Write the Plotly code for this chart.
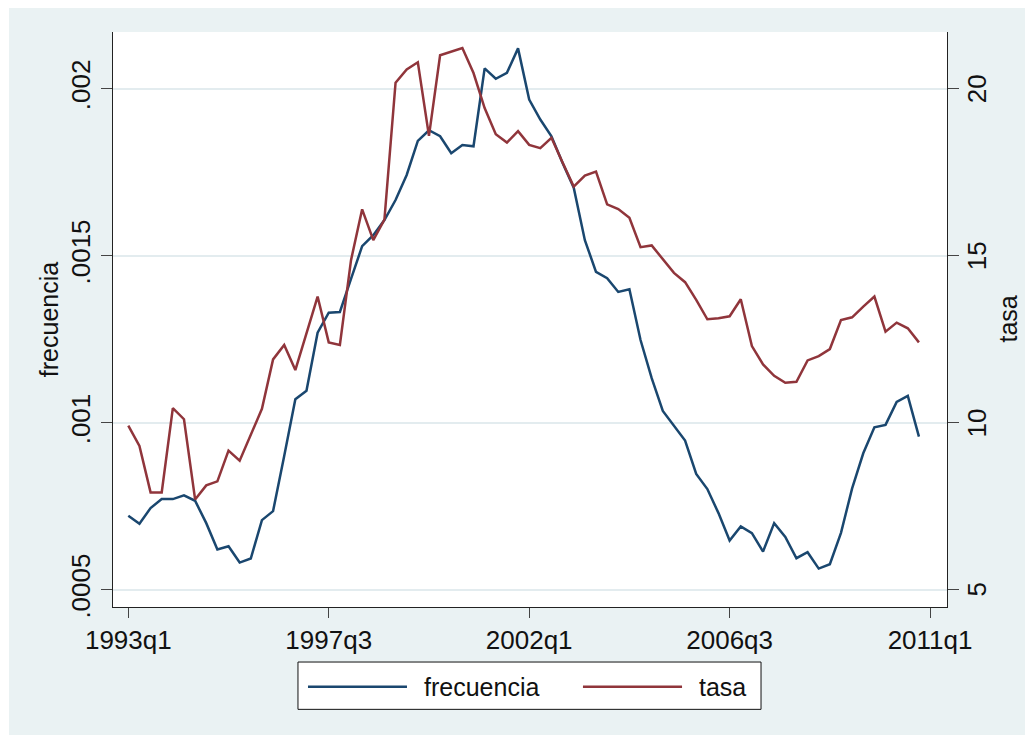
import plotly.graph_objects as go

# quarterly series, 1993q1 .. 2010q4 (index 0 .. 71)
QUARTER_TICKS = [0, 18, 36, 54, 72]
QUARTER_LABELS = ["1993q1", "1997q3", "2002q1", "2006q3", "2011q1"]

FREQ_TICKS = [0.0005, 0.001, 0.0015, 0.002]
FREQ_LABELS = [".0005", ".001", ".0015", ".002"]
TASA_TICKS = [5, 10, 15, 20]
TASA_LABELS = ["5", "10", "15", "20"]

frecuencia = [
    0.000722, 0.000698, 0.000745, 0.000772, 0.000772, 0.000783, 0.000767, 0.000700, 0.000621, 0.000631,
    0.000582, 0.000594, 0.000709, 0.000736, 0.000901, 0.001071, 0.001096, 0.001270, 0.001330, 0.001332,
    0.001431, 0.001529, 0.001562, 0.001607, 0.001667, 0.001742, 0.001844, 0.001876, 0.001858, 0.001807,
    0.001832, 0.001828, 0.002061, 0.002030, 0.002048, 0.002121, 0.001968, 0.001908, 0.001858, 0.001778,
    0.001704, 0.001547, 0.001452, 0.001433, 0.001392, 0.001400, 0.001248, 0.001134, 0.001036, 0.000992,
    0.000947, 0.000847, 0.000802, 0.000730, 0.000648, 0.000690, 0.000670, 0.000615, 0.000700, 0.000659,
    0.000595, 0.000613, 0.000564, 0.000577, 0.000671, 0.000804, 0.000909, 0.000987, 0.000994, 0.001063,
    0.001081, 0.000959,
]

tasa = [
    9.92, 9.31, 7.92, 7.92, 10.44, 10.11, 7.71, 8.13, 8.25, 9.17,
    8.87, 9.67, 10.42, 11.90, 12.33, 11.58, 12.68, 13.78, 12.41, 12.33,
    14.87, 16.39, 15.47, 16.08, 20.18, 20.58, 20.79, 18.59, 21.00, 21.10,
    21.22, 20.47, 19.42, 18.64, 18.39, 18.73, 18.32, 18.22, 18.53, 17.79,
    17.07, 17.40, 17.52, 16.54, 16.40, 16.14, 15.26, 15.31, 14.90, 14.49,
    14.21, 13.68, 13.10, 13.13, 13.19, 13.70, 12.30, 11.75, 11.41, 11.20,
    11.23, 11.87, 12.00, 12.21, 13.08, 13.16, 13.48, 13.78, 12.73, 13.00,
    12.83, 12.41,
]

BLUE = "#1a476f"
RED = "#90353b"
BG = "#eaf2f3"
GRID = "#e3ecef"
FONT = "Liberation Sans, Arial, sans-serif"

quarters = list(range(len(frecuencia)))

fig = go.Figure()
fig.add_trace(go.Scatter(x=quarters, y=frecuencia, mode="lines", name="frecuencia",
                         line={"color": BLUE, "width": 2.5}))
fig.add_trace(go.Scatter(x=quarters, y=tasa, mode="lines", name="tasa", yaxis="y2",
                         line={"color": RED, "width": 2.5}))

axis_common = dict(
    showline=True, linecolor="#222222", linewidth=1.3,
    ticks="outside", ticklen=11, tickwidth=1.3, tickcolor="#444444",
    tickfont={"size": 26, "color": "#111111", "family": FONT},
    zeroline=False,
)

# the page body adds an 8px offset, so the figure is a bit smaller than the window
fig.update_layout(
    width=1026, height=732,
    margin={"l": 105, "r": 87, "t": 24, "b": 133},
    paper_bgcolor="white",
    plot_bgcolor="white",
    showlegend=False,
    font={"family": FONT, "color": "#111111"},
    xaxis=dict(
        axis_common, range=[-1.374, 73.52], tickvals=QUARTER_TICKS, ticktext=QUARTER_LABELS,
        showgrid=False, ticklen=10,
    ),
    yaxis=dict(
        axis_common, range=[0.000449, 0.00217], tickvals=FREQ_TICKS, ticktext=FREQ_LABELS,
        tickangle=-90, showgrid=True, gridcolor=GRID, gridwidth=1.5,
        title={"text": "frecuencia", "font": {"size": 25, "family": FONT}, "standoff": 0},
    ),
    yaxis2=dict(
        axis_common, range=[4.491, 21.697], tickvals=TASA_TICKS, showticklabels=False,
        overlaying="y", side="right", showgrid=False,
    ),
)

# right axis labels are vertical like the left ones (tickangle is ignored there)
for val, txt in zip(TASA_TICKS, TASA_LABELS):
    fig.add_annotation(text=txt, xref="paper", yref="y2", x=1.0354, y=val, textangle=-90,
                       xanchor="center", yanchor="middle", showarrow=False,
                       font={"size": 26, "family": FONT, "color": "#111111"})
fig.add_annotation(text="tasa", xref="paper", yref="paper", x=1.072, y=0.5, textangle=-90,
                   xanchor="center", yanchor="middle", showarrow=False,
                   font={"size": 25, "family": FONT, "color": "#111111"})

# outer Stata-like background and white plot region
fig.add_shape(type="rect", xref="paper", yref="paper", x0=-0.1247, x1=1.0935, y0=-0.2226, y1=1.047,
              fillcolor=BG, line={"width": 0}, layer="below")
fig.add_shape(type="rect", xref="paper", yref="paper", x0=0, x1=1, y0=0, y1=1,
              fillcolor="white", line={"width": 0}, layer="below")

# legend box below the plot
fig.add_shape(type="rect", xref="paper", yref="paper", x0=0.2218, x1=0.777, y0=-0.178, y1=-0.0957,
              fillcolor="white", line={"color": "#111111", "width": 1})
legend_items = [("frecuencia", BLUE, 0.2338, 0.3525, 0.3705), ("tasa", RED, 0.5635, 0.6823, 0.7002)]
for label, color, lx0, lx1, tx in legend_items:
    fig.add_shape(type="line", xref="paper", yref="paper", x0=lx0, x1=lx1, y0=-0.1386, y1=-0.1386,
                  line={"color": color, "width": 2.5})
    fig.add_annotation(text=label, xref="paper", yref="paper", x=tx, y=-0.1386, xanchor="left",
                       yanchor="middle", showarrow=False, font={"size": 25, "family": FONT, "color": "#111111"})

fig.write_html("out.html")
